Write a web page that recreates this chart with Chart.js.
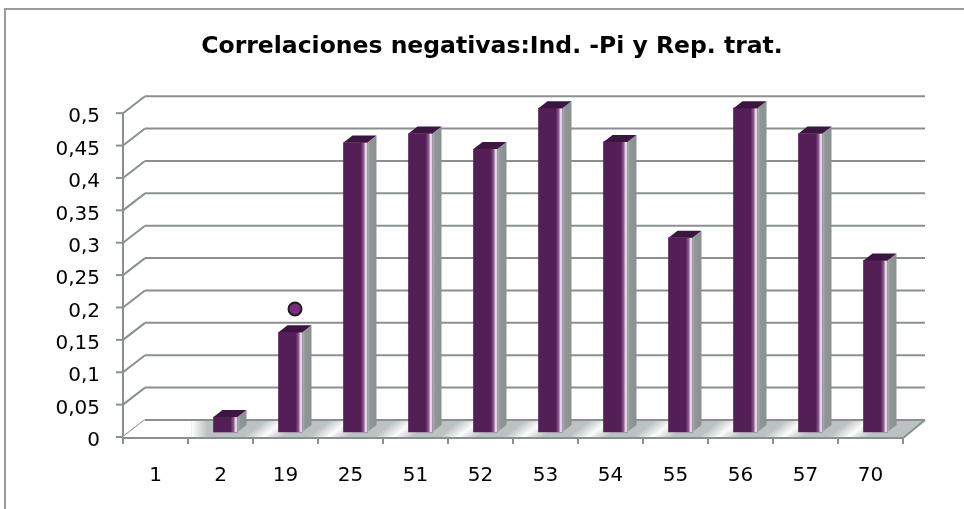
<!DOCTYPE html>
<html lang="es">
<head>
<meta charset="utf-8">
<title>Correlaciones negativas</title>
<script src="https://cdn.jsdelivr.net/npm/chart.js@4.4.1/dist/chart.umd.min.js"></script>
<style>
  html, body { margin: 0; padding: 0; background: #fff; overflow: hidden; }
  canvas { display: block; }
</style>
</head>
<body>
<canvas id="grafica" width="964" height="509"></canvas>
<script>
// Datos
const categorias = ['1', '2', '19', '25', '51', '52', '53', '54', '55', '56', '57', '70'];
const valores = [0, 0.023, 0.154, 0.447, 0.461, 0.437, 0.5, 0.448, 0.3, 0.5, 0.461, 0.265];
// punto que marca la correlacion del 19
const marcaSignificativa = [null, null, 0.19, null, null, null, null, null, null, null, null, null];
const etiquetasY = ['0', '0,05', '0,1', '0,15', '0,2', '0,25', '0,3', '0,35', '0,4', '0,45', '0,5'];

// desplazamientos del efecto 3D (en pixeles)
const FONDO = { x: 22, y: -17 };        // pared del fondo
const DESPL_BARRAS = { x: 5, y: -5 };   // plano de las barras
const DESPL_MARCA = { x: 9.5, y: -5 };
const PROF_BARRA = { x: 9, y: -7 };     // grosor de cada barra

const COLOR_REJILLA = '#8a9090';
const COLOR_BARRA = '#541f57';

function linea(ctx, x1, y1, x2, y2) {
    ctx.beginPath();
    ctx.moveTo(x1, y1);
    ctx.lineTo(x2, y2);
    ctx.stroke();
}

const escena3d = {
    id: 'escena3d',
    beforeDraw(chart) {
        // marco del grafico
        const ctx = chart.ctx;
        ctx.save();
        ctx.strokeStyle = '#9b9b9b';
        ctx.lineWidth = 2;
        ctx.beginPath();
        ctx.moveTo(chart.width, 9);
        ctx.lineTo(5, 9);
        ctx.lineTo(5, chart.height);
        ctx.stroke();
        ctx.restore();
    },
    beforeDatasetsDraw(chart) {
        const ctx = chart.ctx;
        const a = chart.chartArea;
        const ys = chart.scales.y;
        const xs = chart.scales.x;
        const y0 = ys.getPixelForValue(0);
        ctx.save();
        ctx.lineWidth = 2;
        ctx.strokeStyle = COLOR_REJILLA;

        // lineas de la pared del fondo y pared izquierda
        ys.ticks.forEach(t => {
            const y = ys.getPixelForValue(t.value);
            linea(ctx, a.left + FONDO.x, y + FONDO.y, a.right + FONDO.x, y + FONDO.y);
            linea(ctx, a.left, y, a.left + FONDO.x, y + FONDO.y);
            linea(ctx, a.left - 7, y, a.left, y);
        });
        linea(ctx, a.left, a.top, a.left, a.bottom);

        // suelo
        const suelo = new Path2D();
        suelo.moveTo(a.left, y0);
        suelo.lineTo(a.right, y0);
        suelo.lineTo(a.right + FONDO.x, y0 + FONDO.y);
        suelo.lineTo(a.left + FONDO.x, y0 + FONDO.y);
        suelo.closePath();
        ctx.fillStyle = '#bcc1c1';
        ctx.fill(suelo);

        ctx.save();
        ctx.clip(suelo);
        // zona sin barra a la izquierda
        const metaBarras = chart.getDatasetMeta(1);
        const primera = metaBarras.data[1];
        const xBlanco = primera.x + DESPL_BARRAS.x - primera.width / 2 - 22;
        ctx.fillStyle = '#ffffff';
        ctx.fillRect(a.left, y0 + FONDO.y - 2, xBlanco - a.left, -FONDO.y + 4);
        const gBlanco = ctx.createLinearGradient(xBlanco, 0, xBlanco + 16, 0);
        gBlanco.addColorStop(0, '#ffffff');
        gBlanco.addColorStop(1, 'rgba(255,255,255,0)');
        ctx.fillStyle = gBlanco;
        ctx.fillRect(xBlanco, y0 + FONDO.y - 2, 16, -FONDO.y + 4);

        // reflejos diagonales entre barras
        const n = Math.hypot(FONDO.x, FONDO.y);
        const nx = -FONDO.y / n, ny = FONDO.x / n;
        for (let k = 2; k < categorias.length; k++) {
            const cx = xs.getPixelForValue(k - 0.5) + 10 + FONDO.x / 2;
            const cy = y0 + FONDO.y / 2;
            const g = ctx.createLinearGradient(cx - nx * 12, cy - ny * 12, cx + nx * 12, cy + ny * 12);
            g.addColorStop(0, 'rgba(255,255,255,0)');
            g.addColorStop(0.5, 'rgba(255,255,255,0.95)');
            g.addColorStop(1, 'rgba(255,255,255,0)');
            ctx.fillStyle = g;
            ctx.fillRect(cx - 40, y0 + FONDO.y - 2, 80, -FONDO.y + 4);
        }
        ctx.restore();

        // bordes del suelo
        ctx.strokeStyle = COLOR_REJILLA;
        linea(ctx, a.left, y0 + 1, a.right, y0 + 1);
        linea(ctx, a.right, y0 + 1, a.right + FONDO.x, y0 + FONDO.y);
        linea(ctx, a.left + FONDO.x, y0 + FONDO.y, a.right + FONDO.x, y0 + FONDO.y);

        // marcas del eje x
        for (let k = 0; k <= categorias.length; k++) {
            const x = xs.getPixelForValue(k - 0.5);
            linea(ctx, x, y0, x, y0 + 7);
        }
        ctx.restore();
    },
    beforeDatasetDraw(chart, args) {
        const d = args.meta.type === 'bar' ? DESPL_BARRAS : DESPL_MARCA;
        chart.ctx.save();
        chart.ctx.translate(d.x, d.y);
    },
    afterDatasetDraw(chart, args) {
        const ctx = chart.ctx;
        if (args.meta.type === 'bar') {
            args.meta.data.forEach(el => {
                const x0 = el.x - el.width / 2;
                const x1 = el.x + el.width / 2;
                const yt = el.y, yb = el.base;
                if (yb - yt < 0.5) return;
                // brillo del borde derecho
                const gb = ctx.createLinearGradient(x1 - 7, 0, x1, 0);
                gb.addColorStop(0, COLOR_BARRA);
                gb.addColorStop(0.45, '#8c5a8f');
                gb.addColorStop(0.75, '#f2e6f2');
                gb.addColorStop(1, '#c9bdc9');
                ctx.fillStyle = gb;
                ctx.fillRect(x1 - 7, yt, 7, yb - yt);
                // cara lateral
                const gl = ctx.createLinearGradient(x1, 0, x1 + PROF_BARRA.x, 0);
                gl.addColorStop(0, '#a9afaf');
                gl.addColorStop(0.3, '#8f9696');
                gl.addColorStop(1, '#8a9191');
                ctx.fillStyle = gl;
                ctx.beginPath();
                ctx.moveTo(x1, yt);
                ctx.lineTo(x1 + PROF_BARRA.x, yt + PROF_BARRA.y);
                ctx.lineTo(x1 + PROF_BARRA.x, yb + PROF_BARRA.y);
                ctx.lineTo(x1, yb);
                ctx.closePath();
                ctx.fill();
                // cara superior
                ctx.fillStyle = '#3b1640';
                ctx.beginPath();
                ctx.moveTo(x0, yt);
                ctx.lineTo(x0 + PROF_BARRA.x, yt + PROF_BARRA.y);
                ctx.lineTo(x1 + PROF_BARRA.x, yt + PROF_BARRA.y);
                ctx.lineTo(x1, yt);
                ctx.closePath();
                ctx.fill();
            });
        }
        ctx.restore();
    }
};

new Chart(document.getElementById('grafica'), {
    data: {
        labels: categorias,
        datasets: [
            {
                type: 'line',
                label: 'Marca',
                data: marcaSignificativa,
                showLine: false,
                pointRadius: 6.5,
                pointBackgroundColor: '#7a2d7e',
                pointBorderColor: '#1c1c1c',
                pointBorderWidth: 2,
                clip: false,
                order: 0
            },
            {
                type: 'bar',
                label: 'Correlacion',
                data: valores,
                // las barras de valor 0 no se ven
                backgroundColor: c => (c.raw === 0 ? 'rgba(0,0,0,0)' : COLOR_BARRA),
                barThickness: 24,
                clip: false,
                order: 1
            }
        ]
    },
    options: {
        responsive: false,
        animation: false,
        layout: { padding: { left: 20, right: 0, top: 0, bottom: 0 } },
        plugins: {
            legend: { display: false },
            tooltip: { enabled: false },
            title: {
                display: true,
                text: 'Correlaciones negativas:Ind. -Pi y Rep. trat.',
                color: '#000',
                font: { family: 'DejaVu Sans', size: 23.5, weight: 'bold' },
                padding: { top: 33, bottom: 52 }
            }
        },
        scales: {
            x: {
                type: 'category',
                grid: { display: false, drawTicks: false },
                border: { display: false },
                ticks: {
                    color: '#000',
                    font: { family: 'DejaVu Sans', size: 20 },
                    padding: 27,
                    maxRotation: 0
                },
                afterFit: s => { s.height = 72; }
            },
            y: {
                min: 0,
                max: 0.5,
                grid: { display: false, drawTicks: false },
                border: { display: false },
                ticks: {
                    stepSize: 0.05,
                    color: '#000',
                    font: { family: 'DejaVu Sans', size: 20 },
                    padding: 23,
                    labelOffset: 4,
                    callback: (v, i) => etiquetasY[i]
                },
                afterFit: s => { s.width = 103; }
            },
            // eje vacio a la derecha: deja sitio a la pared del fondo
            derecha: {
                type: 'linear',
                position: 'right',
                grid: { display: false, drawTicks: false },
                border: { display: false },
                ticks: { display: false },
                afterFit: s => { s.width = 61; }
            }
        }
    },
    plugins: [escena3d]
});
</script>
</body>
</html>
